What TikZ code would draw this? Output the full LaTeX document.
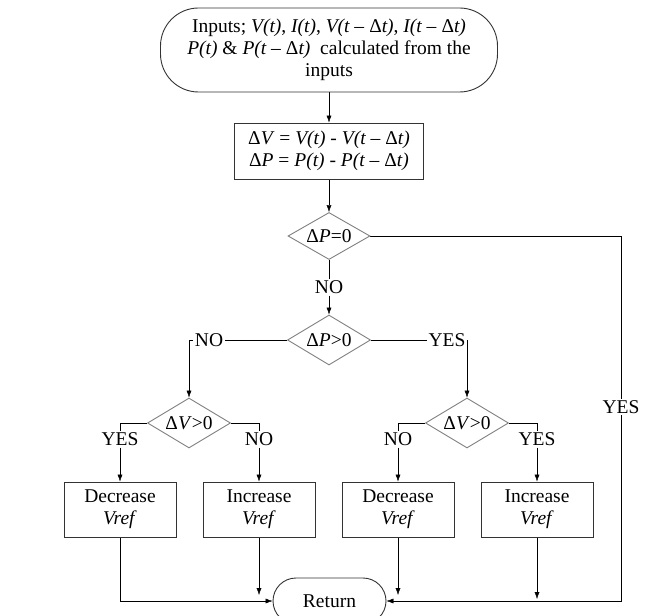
\documentclass[tikz,border=0pt]{standalone}
\usepackage{fontspec}
\setmainfont{Liberation Serif}
\usetikzlibrary{shapes.geometric,arrows.meta,backgrounds}
\newcommand{\mydt}{\textup{Δ}t}
\begin{document}
\begin{tikzpicture}[x=1pt,y=-1pt,
  font=\fontsize{19.5}{22}\selectfont,
  line width=0.9pt,
  >={Latex[length=7pt,width=5pt]},
  term/.style={draw=black!80, rectangle, rounded corners=38pt, align=center, inner sep=0pt, minimum width=337pt, minimum height=84pt},
  proc/.style={draw=black!80, rectangle, align=center, inner sep=0pt, minimum width=112pt, minimum height=55pt},
  dec/.style={draw=black!50, diamond, aspect=1.66, inner sep=0pt, minimum width=83pt, minimum height=50pt},
  lbl/.style={fill=white, inner sep=1.5pt}]
\useasboundingbox (0,0) rectangle (655,615);
\clip (0,0) rectangle (655,615);

% main nodes
\node[term] (start) at (329,50) {Inputs; \textit{V(t)}, \textit{I(t)}, \textit{V(t – \mydt)}, \textit{I(t – \mydt)}\\
  \textit{P(t)} \& \textit{P(t – \mydt)}\enspace calculated from the\\ inputs};
\node[proc, minimum width=189pt, minimum height=56pt] (calc) at (329,151)
  {Δ\textit{V} = \textit{V(t)} - \textit{V(t – \mydt)}\\ Δ\textit{P} = \textit{P(t)} - \textit{P(t – \mydt)}};
\node[dec, minimum width=82pt, minimum height=47pt] (d1) at (329,236) {Δ\textit{P}=0};
\node[dec] (d2) at (329,340) {Δ\textit{P}>0};
\node[dec] (d3) at (189,423) {Δ\textit{V}>0};
\node[dec] (d4) at (467,423) {Δ\textit{V}>0};

\node[proc] (b1) at (120,509.5) {Decrease\\\textit{Vref}};
\node[proc] (b2) at (259,509.5) {Increase\\\textit{Vref}};
\node[proc] (b3) at (398,509.5) {Decrease\\\textit{Vref}};
\node[proc] (b4) at (537,509.5) {Increase\\\textit{Vref}};

\node[term, rounded corners=23pt, minimum width=113pt, minimum height=46pt] (ret) at (329.5,601) {Return};

% labels
\node[lbl] (no1) at (329,287) {NO};
\node[lbl] (no2) at (209,340) {NO};
\node[lbl] (yes2) at (447,340) {YES};
\node[lbl] (yes3) at (120,439) {YES};
\node[lbl] (no3) at (259,439) {NO};
\node[lbl] (no4) at (398,439) {NO};
\node[lbl] (yes4) at (537,439) {YES};
\node[lbl] (yes1) at (621,407) {YES};

% free ends
\coordinate (e2) at (259,595);
\coordinate (e3) at (398,595);
\coordinate (e4) at (537,599);
\coordinate (rb) at (621,601);

\begin{pgfonlayer}{background}
\draw[->] (start.south) -- (calc.north);
\draw[->] (calc.south) -- (d1.north);
\draw (d1.south) -- (no1.north);
\draw[->] (no1.south) -- (d2.north);
\draw[->] (d2.west) -| (d3.north);
\draw[->] (d2.east) -| (d4.north);
\draw (d3.west) -| (yes3.north);
\draw[->] (yes3.south) -- (b1.north);
\draw (d3.east) -| (no3.north);
\draw[->] (no3.south) -- (b2.north);
\draw (d4.west) -| (no4.north);
\draw[->] (no4.south) -- (b3.north);
\draw (d4.east) -| (yes4.north);
\draw[->] (yes4.south) -- (b4.north);
\draw[->] (b1.south) |- (ret.west);
\draw[->] (b2.south) -- (e2);
\draw[->] (b3.south) -- (e3);
\draw[->] (b4.south) -- (e4);
\draw[->] (d1.east) -| (rb) -- (ret.east);
\end{pgfonlayer}
\end{tikzpicture}
\end{document}
